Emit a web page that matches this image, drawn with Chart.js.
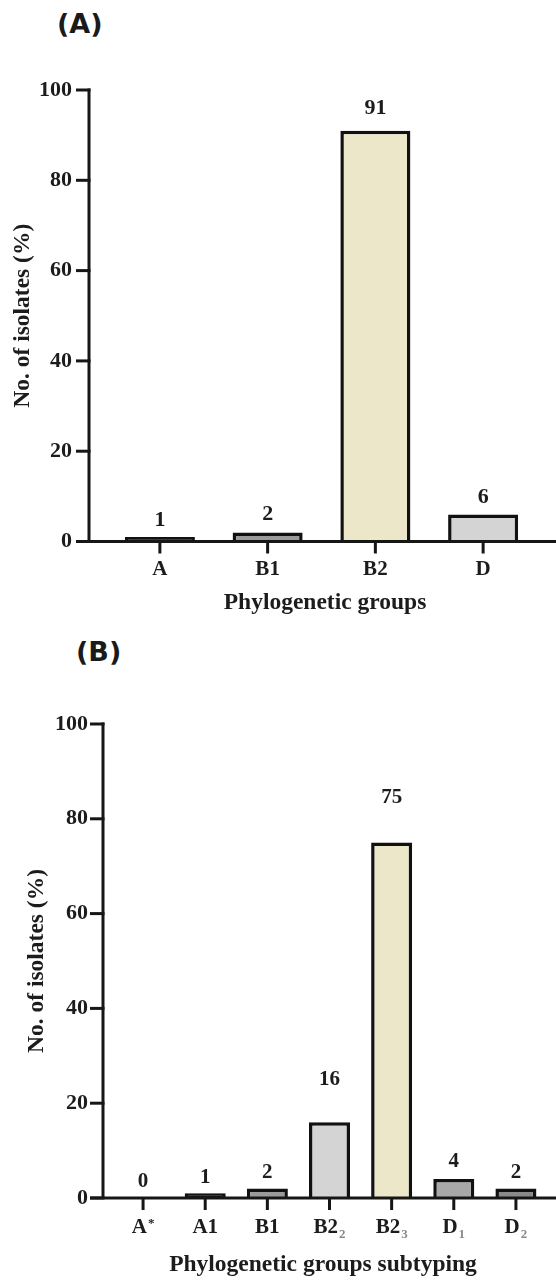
<!DOCTYPE html>
<html>
<head>
<meta charset="utf-8">
<script src="https://cdn.jsdelivr.net/npm/chart.js@4.4.0/dist/chart.umd.min.js"></script>
<style>
  html, body { margin: 0; padding: 0; background: #fff; }
  body { width: 556px; height: 1280px; position: relative; overflow: hidden; }
  .panel { position: absolute; left: 0; width: 556px; }
  .tag { position: absolute; font-family: "DejaVu Sans", sans-serif; font-weight: bold; font-size: 27px; color: #1a1a1a; line-height: 1; }
</style>
</head>
<body>
<div class="tag" style="left:57px; top:10px;">(A)</div>
<div class="panel" style="top:0; height:620px;"><canvas id="chartA" width="556" height="620"></canvas></div>
<div class="tag" style="left:76px; top:638px;">(B)</div>
<div class="panel" style="top:620px; height:660px;"><canvas id="chartB" width="556" height="660"></canvas></div>
<script>
// ---- Data ----
const categoriesA = ['A', 'B1', 'B2', 'D'];
const valuesA = [1, 2, 91, 6];
const colorsA = ['#111111', '#9a9a9a', '#ede7c9', '#d4d4d4'];

const categoriesB = ['A^*', 'A1', 'B1', 'B2_2', 'B2_3', 'D_1', 'D_2'];
const valuesB = [0, 1, 2, 16, 75, 4, 2];
const colorsB = ['#111111', '#111111', '#9a9a9a', '#d4d4d4', '#ede7c9', '#a8a8a8', '#8a8a8a'];

const yTicks = [0, 20, 40, 60, 80, 100];
const xTitleA = 'Phylogenetic groups';
const xTitleB = 'Phylogenetic groups subtyping';
const yTitle = 'No. of isolates (%)';

const SERIF = '"Liberation Serif", "Times New Roman", serif';
const TEXT = '#1c1c1c';

function drawLabel(ctx, label, cx, cy, size) {
  let main = label, sub = '', sup = '';
  if (label.includes('_')) { [main, sub] = label.split('_'); }
  if (label.includes('^')) { [main, sup] = label.split('^'); }
  const small = Math.round(size * 0.64);
  ctx.font = 'bold ' + size + 'px ' + SERIF;
  const wMain = ctx.measureText(main).width;
  ctx.font = 'bold ' + small + 'px ' + SERIF;
  const wExtra = (sub || sup) ? ctx.measureText(sub || sup).width + 1 : 0;
  const x0 = cx - (wMain + wExtra) / 2;
  ctx.textBaseline = 'middle';
  ctx.textAlign = 'left';
  ctx.fillStyle = TEXT;
  ctx.font = 'bold ' + size + 'px ' + SERIF;
  ctx.fillText(main, x0, cy);
  if (sub) {
    ctx.fillStyle = '#8a8a8a';
    ctx.font = 'bold ' + small + 'px ' + SERIF;
    ctx.fillText(sub, x0 + wMain + 1, cy + size * 0.32);
  }
  if (sup) {
    ctx.fillStyle = TEXT;
    ctx.font = 'bold ' + small + 'px ' + SERIF;
    ctx.fillText(sup, x0 + wMain + 1, cy - size * 0.22);
  }
}

const panelPlugin = {
  id: 'panel',
  afterDatasetsDraw(chart, args, o) {
    const ctx = chart.ctx;
    const xs = chart.scales.x, ys = chart.scales.y;
    const ca = chart.chartArea;
    const y0 = ys.getPixelForValue(0);
    ctx.save();
    ctx.strokeStyle = '#161616';
    ctx.lineWidth = 3;
    ctx.lineCap = 'butt';
    // y axis line
    ctx.beginPath();
    ctx.moveTo(o.axisX, ys.getPixelForValue(100) - 1.5);
    ctx.lineTo(o.axisX, y0);
    ctx.stroke();
    // y tick marks
    ys.ticks.forEach(t => {
      const py = ys.getPixelForValue(t.value);
      ctx.beginPath();
      ctx.moveTo(o.axisX - o.tickLen, py);
      ctx.lineTo(o.axisX + 1.5, py);
      ctx.stroke();
    });
    // x axis line
    ctx.beginPath();
    ctx.moveTo(o.axisX - o.tickLen, y0);
    ctx.lineTo(chart.width, y0);
    ctx.stroke();
    // x tick marks + labels
    const labels = chart.data.labels;
    labels.forEach((lab, i) => {
      const px = xs.getPixelForValue(i);
      ctx.beginPath();
      ctx.moveTo(px, y0);
      ctx.lineTo(px, y0 + o.xTickLen);
      ctx.stroke();
      drawLabel(ctx, lab, px, o.xLabelY, o.xLabelSize);
    });
    // value labels
    const meta = chart.getDatasetMeta(0);
    const data = chart.data.datasets[0].data;
    ctx.fillStyle = TEXT;
    ctx.font = 'bold ' + o.valueSize + 'px ' + SERIF;
    ctx.textAlign = 'center';
    ctx.textBaseline = 'middle';
    meta.data.forEach((bar, i) => {
      ctx.fillText(String(data[i]), bar.x, ys.getPixelForValue(data[i]) - o.valueGaps[i]);
    });
    // x axis title
    ctx.font = 'bold ' + o.titleSize + 'px ' + SERIF;
    ctx.fillText(o.xTitle, o.xTitleX, o.xTitleY);
    // y axis title
    ctx.save();
    ctx.translate(o.yTitleX, (ca.top + ca.bottom) / 2);
    ctx.rotate(-Math.PI / 2);
    ctx.fillText(yTitle, 0, 0);
    ctx.restore();
    ctx.restore();
  }
};

function makeChart(id, cats, vals, cols, cfg) {
  return new Chart(document.getElementById(id), {
    type: 'bar',
    data: {
      labels: cats,
      datasets: [{
        data: vals,
        backgroundColor: cols,
        borderColor: '#111111',
        borderWidth: 3.5,
        borderSkipped: 'start',
        barPercentage: cfg.barPct,
        categoryPercentage: 1.0
      }]
    },
    options: {
      responsive: false,
      animation: false,
      devicePixelRatio: 1,
      layout: { padding: { top: cfg.top, right: cfg.right, left: 0, bottom: 0 } },
      plugins: {
        legend: { display: false },
        tooltip: { enabled: false },
        panel: cfg.panel
      },
      scales: {
        x: {
          grid: { display: false, drawTicks: false },
          border: { display: false },
          ticks: { display: false },
          afterFit(scale) { scale.height = cfg.xHeight; }
        },
        y: {
          min: 0, max: 100,
          afterBuildTicks(scale) { scale.ticks = yTicks.map(v => ({ value: v })); },
          grid: { display: false, drawTicks: false },
          border: { display: false },
          ticks: {
            padding: cfg.yPad,
            color: TEXT,
            font: { family: SERIF, size: cfg.yTickSize, weight: 'bold' }
          },
          afterFit(scale) { scale.width = cfg.left; }
        }
      }
    },
    plugins: [panelPlugin]
  });
}

// Panel A: chart area 106..537 x 90..541.5
makeChart('chartA', categoriesA, valuesA, colorsA, {
  top: 90, right: 19, left: 106, xHeight: 78.5, barPct: 0.65, yPad: 34, yTickSize: 22,
  panel: { axisX: 89, tickLen: 13, xTickLen: 12, xLabelY: 570, xLabelSize: 21,
           valueGaps: [17, 18, 22, 17], valueSize: 22, xTitle: xTitleA, xTitleX: 325, xTitleY: 603,
           titleSize: 23.5, yTitleX: 23 }
});

// Panel B: chart area 112..547 x 104..578 (canvas offset 620)
makeChart('chartB', categoriesB, valuesB, colorsB, {
  top: 104, right: 9, left: 112, xHeight: 82, barPct: 0.66, yPad: 24, yTickSize: 22,
  panel: { axisX: 103, tickLen: 13, xTickLen: 12, xLabelY: 608, xLabelSize: 21,
           valueGaps: [16, 16, 16, 43, 45, 17, 16], valueSize: 21, xTitle: xTitleB, xTitleX: 323, xTitleY: 645,
           titleSize: 23.5, yTitleX: 37 }
});
</script>
</body>
</html>
